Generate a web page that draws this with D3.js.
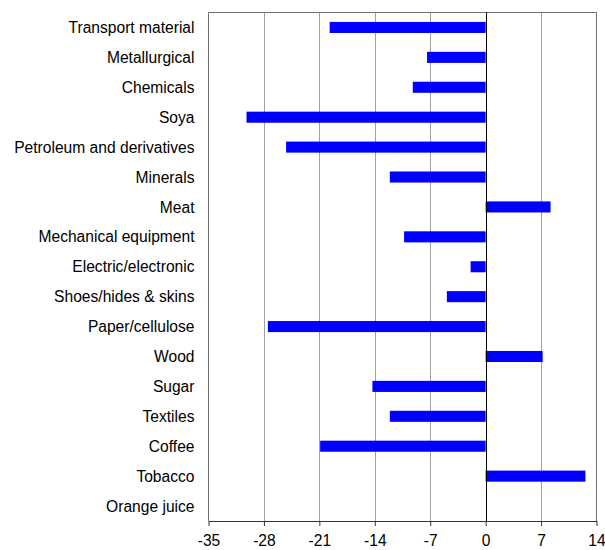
<!DOCTYPE html>
<html>
<head>
<meta charset="utf-8">
<script src="https://cdn.jsdelivr.net/npm/d3@7"></script>
<style>
  html, body { margin: 0; padding: 0; background: #fff; }
  svg { display: block; }
  text { font-family: "Liberation Sans", Arial, sans-serif; }
</style>
</head>
<body>
<svg id="chart" width="605" height="550"></svg>
<script>
// Categories, top to bottom
const categories = [
  "Transport material", "Metallurgical", "Chemicals", "Soya",
  "Petroleum and derivatives", "Minerals", "Meat", "Mechanical equipment",
  "Electric/electronic", "Shoes/hides & skins", "Paper/cellulose", "Wood",
  "Sugar", "Textiles", "Coffee", "Tobacco", "Orange juice"
];
// Change per category
const values = [
  -19.7, -7.4, -9.2, -30.2,
  -25.2, -12.1, 8.2, -10.3,
  -1.9, -4.9, -27.5, 7.2,
  -14.3, -12.1, -20.9, 12.6, 0
];
// Axis ticks
const xTicks = [-35, -28, -21, -14, -7, 0, 7, 14];

const FONT = 15.6;
const svg = d3.select("#chart");
const m = { left: 208.5, right: 596.5, top: 12.5, bottom: 521 };

const x = d3.scaleLinear().domain([-35, 14]).range([m.left, m.right]);
const y = d3.scaleBand()
  .domain(categories)
  .range([m.top, m.bottom])
  .paddingInner(0.63)
  .paddingOuter(0.315);

// Vertical gridlines
svg.append("g")
  .selectAll("line")
  .data(xTicks.filter(t => t !== 0 && t !== -35 && t !== 14))
  .join("line")
  .attr("x1", d => Math.round(x(d)) + 0.5)
  .attr("x2", d => Math.round(x(d)) + 0.5)
  .attr("y1", m.top)
  .attr("y2", m.bottom)
  .attr("stroke", "#a0a0a0")
  .attr("stroke-width", 1);

// Plot frame (left, top, right)
svg.append("path")
  .attr("d", `M${m.left},${m.bottom}V${m.top}H${m.right}V${m.bottom}`)
  .attr("fill", "none")
  .attr("stroke", "#707070")
  .attr("stroke-width", 1);

// Bars
svg.append("g")
  .selectAll("rect")
  .data(categories.map((c, i) => ({ c, v: values[i] })))
  .join("rect")
  .attr("x", d => x(Math.min(0, d.v)))
  .attr("y", d => y(d.c))
  .attr("width", d => Math.abs(x(d.v) - x(0)))
  .attr("height", y.bandwidth())
  .attr("fill", "#0000ff");

// Zero line
svg.append("line")
  .attr("x1", Math.round(x(0)) + 0.5)
  .attr("x2", Math.round(x(0)) + 0.5)
  .attr("y1", m.top)
  .attr("y2", m.bottom)
  .attr("stroke", "#000")
  .attr("stroke-width", 1);

// Category labels
svg.append("g")
  .selectAll("text")
  .data(categories)
  .join("text")
  .attr("x", 194.5)
  .attr("y", d => y(d) + y.bandwidth() / 2 + 5.6)
  .attr("text-anchor", "end")
  .attr("font-size", FONT)
  .attr("fill", "#000")
  .text(d => d);

// Bottom axis
const xAxis = d3.axisBottom(x)
  .tickValues(xTicks)
  .tickFormat(d => String(d))
  .tickSize(5)
  .tickPadding(9)
  .tickSizeOuter(0);
const gx = svg.append("g")
  .attr("transform", `translate(0,${m.bottom})`)
  .call(xAxis);
gx.select(".domain").attr("stroke", "#333");
gx.selectAll(".tick line").attr("stroke", "#333");
gx.selectAll(".tick text")
  .attr("font-size", FONT)
  .attr("font-family", "Liberation Sans, Arial, sans-serif")
  .attr("fill", "#000");
</script>
</body>
</html>
